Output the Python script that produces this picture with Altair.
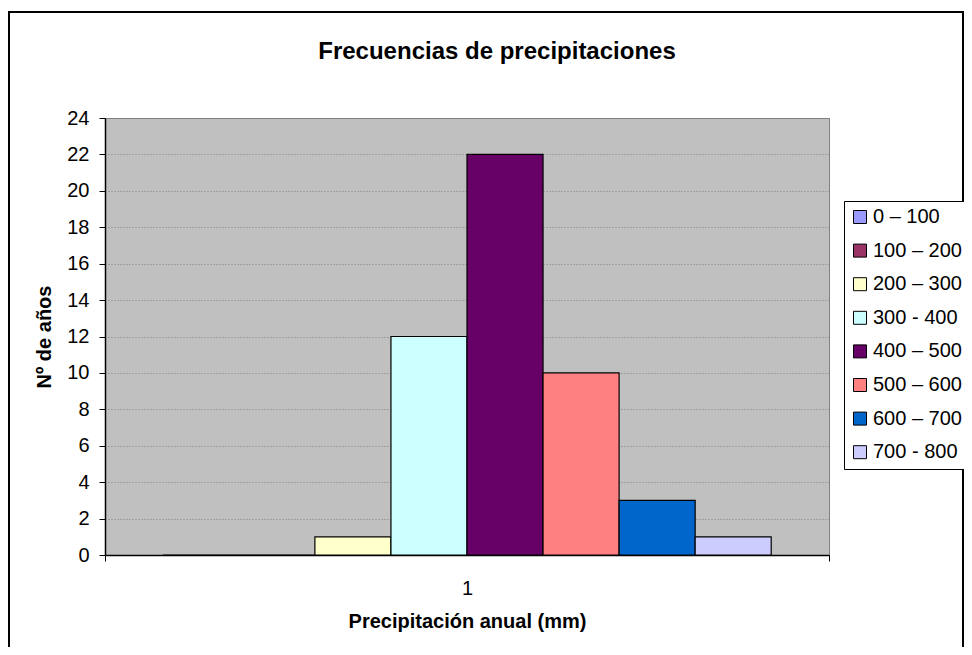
import altair as alt
import pandas as pd

series = ["0 – 100", "100 – 200", "200 – 300", "300 - 400",
          "400 – 500", "500 – 600", " 600 – 700", "700 - 800"]
values = [0, 0, 1, 12, 22, 10, 3, 1]
colors = ["#9999FF", "#993366", "#FFFFCC", "#CCFFFF",
          "#660066", "#FF8080", "#0066CC", "#CCCCFF"]
category = "1"
y_ticks = list(range(0, 25, 2))

df = pd.DataFrame({"cat": [category] * len(series), "serie": series, "n": values})

FONT = "Liberation Sans"

frame = alt.Chart(alt.Data(values=[{"f": 1}])).mark_rect(
    filled=False, stroke="#000000", strokeWidth=2, clip=False
).encode(
    x=alt.value(-96), x2=alt.value(858), y=alt.value(-106), y2=alt.value(700)
)

bars = alt.Chart(df).mark_bar(stroke="#000000", strokeWidth=1.2).encode(
    x=alt.X("cat:N",
            scale=alt.Scale(paddingInner=0, paddingOuter=0),
            axis=alt.Axis(title="Precipitación anual (mm)", labelAngle=0,
                          tickBand="extent", tickSize=6, labelPadding=17,
                          titlePadding=13, titleFontWeight="bold",
                          titleFontSize=20, grid=False)),
    xOffset=alt.XOffset("serie:N", sort=series,
                        scale=alt.Scale(domain=series, paddingInner=0, paddingOuter=0.76)),
    y=alt.Y("n:Q",
            scale=alt.Scale(domain=[0, 24], nice=False),
            axis=alt.Axis(title="Nº de años", values=y_ticks, tickSize=6,
                          labelPadding=10, titlePadding=12, titleFontWeight="bold",
                          titleFontSize=20, grid=True, gridColor="#808080",
                          gridDash=[1, 2], gridWidth=1)),
    color=alt.Color("serie:N", sort=series,
                    scale=alt.Scale(domain=series, range=colors),
                    legend=alt.Legend(title=None, orient="none", legendX=739, legendY=83,
                                      symbolType="square", symbolSize=169,
                                      symbolStrokeColor="#000000", symbolStrokeWidth=1,
                                      labelFontSize=20, labelFont=FONT, labelColor="#000000",
                                      labelOffset=3, rowPadding=13.6, padding=6,
                                      strokeColor="#000000", fillColor="#FFFFFF")),
)

chart = alt.layer(frame, bars).properties(
    width=724,
    height=437,
    background="#FFFFFF",
    autosize=alt.AutoSizeParams(type="none"),
    padding={"left": 97, "top": 110, "right": 135, "bottom": 92},
    title=alt.TitleParams("Frecuencias de precipitaciones", font=FONT, fontSize=24,
                          fontWeight="bold", color="#000000", anchor="middle",
                          dx=30, offset=-53),
).configure_view(
    fill="#C0C0C0", stroke="#808080", strokeWidth=1
).configure_axis(
    domainColor="#000000", domainWidth=1.5, tickColor="#000000",
    labelFont=FONT, labelFontSize=20, labelColor="#000000",
    titleFont=FONT, titleColor="#000000"
)

chart.save("out.html", embed_options={"renderer": "svg", "actions": False})
